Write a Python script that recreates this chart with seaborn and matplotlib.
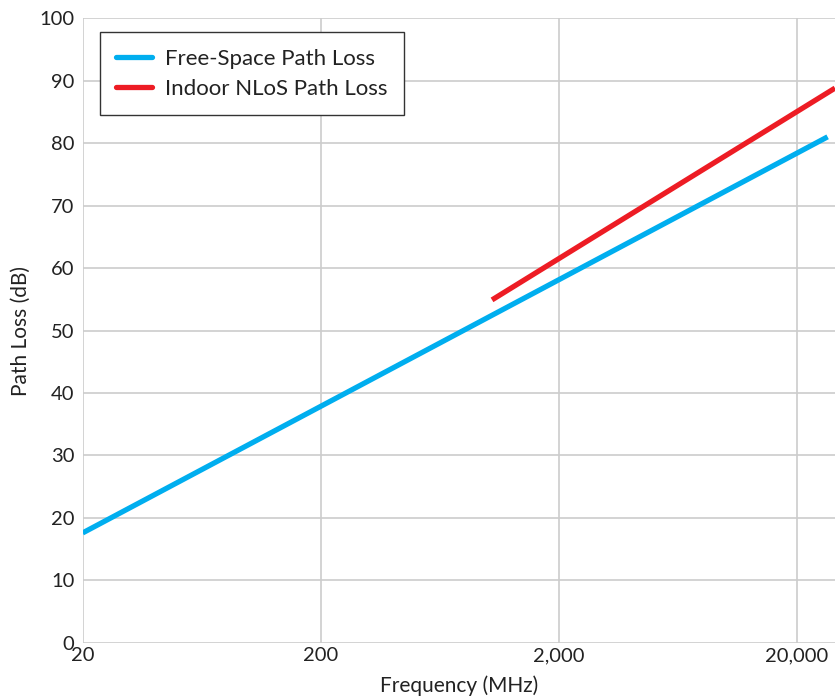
"""
Path loss versus frequency: free-space vs indoor NLoS, log frequency axis.
"""
import matplotlib
matplotlib.use('Agg')
import matplotlib.pyplot as plt
import matplotlib.ticker as mticker
import seaborn as sns
import pandas as pd

# Values (endpoints of straight lines on a log axis)
fs_freq = [20, 27000]
fs_loss = [17.6, 81.0]
nlos_freq = [1050, 29000]
nlos_loss = [54.9, 88.8]

x_ticks = [20, 200, 2000, 20000]
y_ticks = list(range(0, 101, 10))

series_names = ['Free-Space Path Loss', 'Indoor NLoS Path Loss']
series_colors = ['#00AEEF', '#ED1C24']

df = pd.concat([
    pd.DataFrame({'freq': fs_freq, 'loss': fs_loss, 'series': series_names[0]}),
    pd.DataFrame({'freq': nlos_freq, 'loss': nlos_loss, 'series': series_names[1]}),
])

sns.set_style('white')
plt.rcParams['font.family'] = ['Lato', 'DejaVu Sans']
text_color = '#222222'

fig = plt.figure(figsize=(8.35, 6.98), dpi=100)
ax = fig.add_axes([0.099, 0.079, 0.901, 0.895])

sns.lineplot(data=df, x='freq', y='loss', hue='series', hue_order=series_names,
             palette=dict(zip(series_names, series_colors)), linewidth=3.8,
             ax=ax, estimator=None, sort=True)
for line in ax.get_lines():
    line.set_solid_capstyle('butt')

ax.set_xscale('log')
ax.set_xlim(20, 29000)
ax.set_ylim(0, 100)
ax.set_xticks(x_ticks)
ax.xaxis.set_major_formatter(mticker.FuncFormatter(lambda v, p: f'{int(round(v)):,}'))
ax.xaxis.set_minor_locator(mticker.NullLocator())
ax.set_yticks(y_ticks)

ax.grid(True, color='#cccccc', linewidth=1.2)
for s in ax.spines.values():
    s.set_visible(False)
ax.tick_params(axis='both', length=0, labelsize=14.5, colors=text_color, pad=6)
ax.tick_params(axis='x', pad=3)

ax.set_xlabel('Frequency (MHz)', fontsize=15, color=text_color, labelpad=8)
ax.set_ylabel('Path Loss (dB)', fontsize=15, color=text_color, labelpad=6)

leg = ax.legend(loc='upper left', bbox_to_anchor=(0.0226, 0.978), borderaxespad=0,
                fontsize=16, frameon=True, fancybox=False, handlelength=1.6,
                borderpad=0.75, labelspacing=0.45, handletextpad=0.6)
leg.get_frame().set_edgecolor('#333333')
leg.get_frame().set_linewidth(1.0)
leg.get_frame().set_alpha(1.0)
for t in leg.get_texts():
    t.set_color(text_color)
for h in leg.get_lines():
    h.set_linewidth(3.8)
    h.set_solid_capstyle('round')

fig.savefig('out.png', dpi=100)
